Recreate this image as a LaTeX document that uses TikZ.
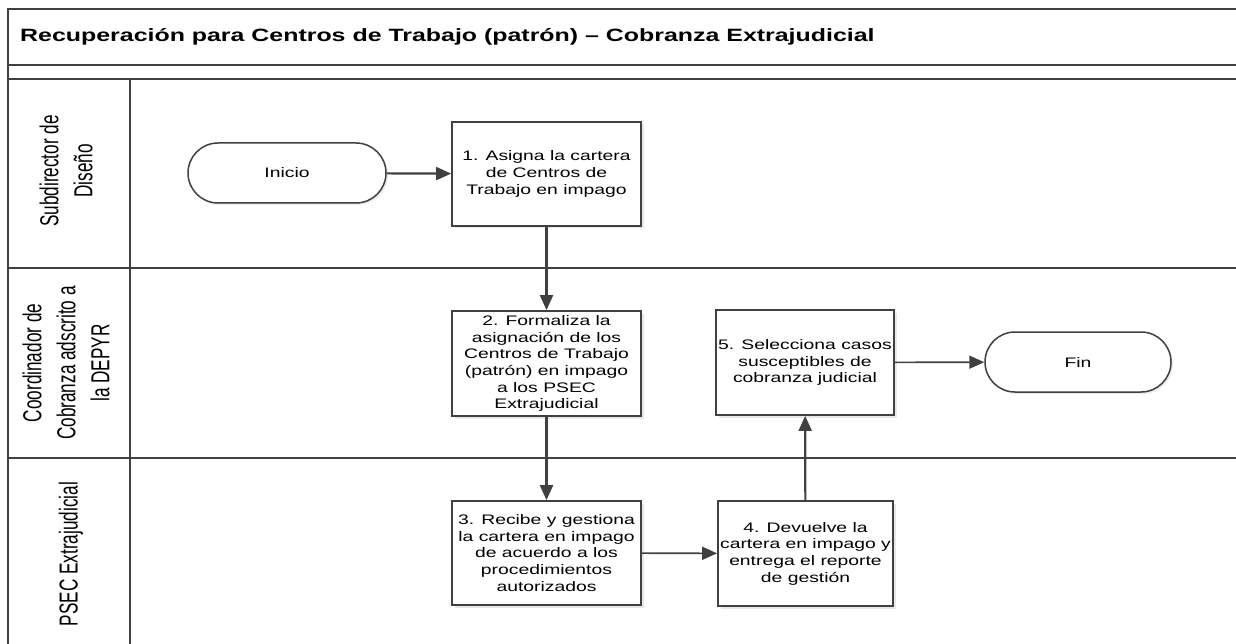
\documentclass[tikz,border=0pt]{standalone}
\usepackage{fontspec}
\setmainfont{Liberation Sans}
\newfontfamily\boxfont[FakeStretch=1.4]{Liberation Sans}
\newfontfamily\lanefont[FakeStretch=0.66]{Liberation Sans}
\usetikzlibrary{arrows.meta,shadows}
\definecolor{dk}{HTML}{404040}
\begin{document}
\begin{tikzpicture}[x=1pt,y=-1pt,
  frame/.style={draw=dk,line width=2pt},
  stepbox/.style={draw=dk,line width=1.8pt,fill=white,minimum width=189pt,minimum height=104pt,
    align=center,inner sep=0pt,font=\boxfont\fontsize{13.8}{16.7}\selectfont,
    drop shadow={shadow xshift=2.5pt,shadow yshift=-2.5pt,fill=black!18}},
  term/.style={draw=dk,line width=1.5pt,fill=white,rounded corners=30pt,minimum height=60pt,
    inner sep=0pt,font=\boxfont\fontsize{13.8}{16.7}\selectfont,
    drop shadow={shadow xshift=2pt,shadow yshift=-2pt,fill=black!15}},
  lane/.style={rotate=90,align=center,inner sep=0pt,font=\lanefont\fontsize{26}{34}\selectfont},
  arr/.style={draw=dk,line width=2.2pt,-{Triangle[length=15pt,width=13pt]}},
  arrthin/.style={draw=dk,line width=1.6pt,-{Triangle[length=15pt,width=13pt]}}
]
\useasboundingbox (0,0) rectangle (1236,644);
% frame
\draw[frame] (8,644) -- (8,9) -- (1236,9);
\draw[frame] (8,65) -- (1236,65);
\draw[frame] (8,79) -- (1236,79);
\draw[frame] (8,268) -- (1236,268);
\draw[frame] (8,458) -- (1236,458);
\draw[frame] (130,79) -- (130,644);
% title
\node[anchor=west,inner sep=0pt,font=\boxfont\bfseries\fontsize{17.8}{20}\selectfont] (title) at (20,37)
  {Recuperación para Centros de Trabajo (patrón) – Cobranza Extrajudicial};
% lane labels
\node[lane] (l1) at (66,171) {Subdirector de\\Diseño};
\node[lane] (l2) at (66,363) {Coordinador de\\Cobranza adscrito a\\la DEPYR};
\node[lane] (l3) at (71,554) {PSEC Extrajudicial};
% nodes
\node[term,minimum width=198pt] (ini) at (287,173) {Inicio};
\node[stepbox] (b1) at (546.5,174) {1. Asigna la cartera\\de Centros de\\Trabajo en impago};
\node[stepbox,minimum height=105pt] (b2) at (546.5,363.5) {2. Formaliza la\\asignación de los\\Centros de Trabajo\\(patrón) en impago\\a los PSEC\\Extrajudicial};
\node[stepbox] (b3) at (546.5,553) {3. Recibe y gestiona\\la cartera en impago\\de acuerdo a los\\procedimientos\\autorizados};
\node[stepbox,minimum width=175pt,minimum height=105pt] (b4) at (805.5,553.5) {4. Devuelve la\\cartera en impago y\\entrega el reporte\\de gestión};
\node[stepbox,minimum width=178pt,minimum height=105pt] (b5) at (805,362.5) {5. Selecciona casos\\susceptibles de\\cobranza judicial};
\node[term,minimum width=186pt] (fin) at (1078,362) {Fin};
% connectors
\draw[arr] (ini) -- (b1);
\draw[arr] (b1) -- (b2);
\draw[arr] (b2) -- (b3);
\draw[arrthin] (b3) -- (b4);
\draw[arr] (b4) -- (b5);
\draw[arrthin] (b5) -- (fin);
\end{tikzpicture}
\end{document}
